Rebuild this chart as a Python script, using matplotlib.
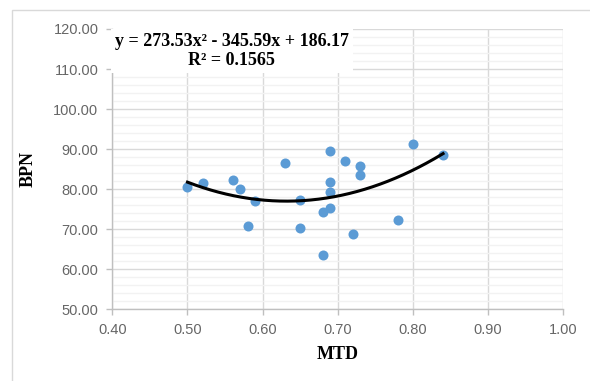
import numpy as np
import matplotlib
matplotlib.use("Agg")
import matplotlib.pyplot as plt
from matplotlib.patches import Rectangle
from matplotlib.ticker import MultipleLocator

# MTD vs BPN
mtd = [0.50, 0.52, 0.56, 0.57, 0.58, 0.59, 0.63, 0.65, 0.65, 0.68, 0.68,
       0.69, 0.69, 0.69, 0.69, 0.71, 0.72, 0.73, 0.73, 0.78, 0.80, 0.84]
bpn = [80.6, 81.6, 82.3, 80.1, 70.8, 77.0, 86.5, 77.3, 70.4, 74.4, 63.5,
       75.2, 79.2, 81.7, 89.6, 87.1, 68.9, 85.9, 83.6, 72.3, 91.3, 88.6]

# trendline polinomiale (ordine 2) come riportata nell'etichetta
coef = [273.53, -345.59, 186.17]
r2 = 0.1565

xticks = [0.40, 0.50, 0.60, 0.70, 0.80, 0.90, 1.00]
yticks = [50, 60, 70, 80, 90, 100, 110, 120]

fig = plt.figure(figsize=(5.9, 3.81), dpi=100)
ax = fig.add_axes([112.3 / 590, 1 - 309.3 / 381, 451 / 590, 280.3 / 381])

# bordo del grafico (stile Excel)
fig.patches.append(Rectangle((12 / 590, -0.1), 1.1, 1 - 10 / 381 + 0.1,
                             transform=fig.transFigure, fill=False,
                             edgecolor="#D9D9D9", linewidth=1))

ax.set_xlim(0.4, 1.0)
ax.set_ylim(50, 120)
ax.set_xticks(xticks)
ax.set_yticks(yticks)
ax.yaxis.set_minor_locator(MultipleLocator(2))
ax.set_xticklabels([f"{v:.2f}" for v in xticks])
ax.set_yticklabels([f"{v:.2f}" for v in yticks])

ax.grid(True, which="major", color="#D9D9D9", linewidth=1)
ax.grid(True, which="minor", axis="y", color="#F2F2F2", linewidth=1)
ax.set_axisbelow(True)

for s in ["top", "right"]:
    ax.spines[s].set_visible(False)
for s in ["left", "bottom"]:
    ax.spines[s].set_color("#BFBFBF")
    ax.spines[s].set_linewidth(1)

ax.tick_params(which="major", length=4, width=1, color="#BFBFBF",
               labelcolor="#666666", labelsize=10.5, pad=6)
ax.tick_params(which="minor", length=0)
for lab in ax.get_xticklabels() + ax.get_yticklabels():
    lab.set_family("Liberation Sans")

ax.scatter(mtd, bpn, s=52, color="#5B9BD5", zorder=3, linewidths=0)

xx = np.linspace(min(mtd), max(mtd), 200)
ax.plot(xx, np.polyval(coef, xx), color="black", linewidth=2.2, zorder=4)

serif = {"family": "Liberation Serif", "weight": "bold"}
ax.set_xlabel("MTD", fontdict=serif, fontsize=13, labelpad=6)
ax.set_ylabel("BPN", fontdict=serif, fontsize=13, labelpad=12)

eq = (f"y = {coef[0]}x² - {abs(coef[1])}x + {coef[2]}\n"
      f"R² = {r2}")
ax.text((231.7 - 112.3) / 451, (309.3 - 51) / 280.3, eq,
        transform=ax.transAxes, ha="center", va="center",
        multialignment="center", fontsize=13, linespacing=1.15,
        bbox=dict(facecolor="white", edgecolor="none", pad=3),
        zorder=5, **serif)

plt.savefig("out.png", dpi=100)
